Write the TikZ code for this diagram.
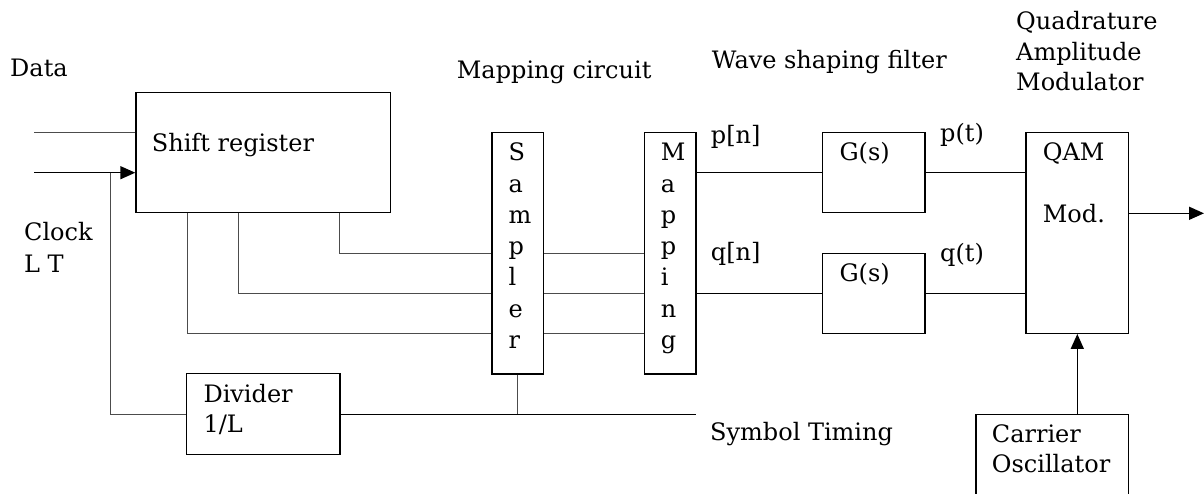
\documentclass[tikz,border=0pt]{standalone}
\usepackage{fontspec}
\setmainfont{DejaVu Serif}
\usetikzlibrary{arrows.meta}

\tikzset{
  blk/.style={draw, line width=1.3pt, inner sep=0pt},
  wire/.style={draw=black!70, line width=0.9pt},
  sig/.style={draw, line width=1.5pt, -{Triangle[length=15pt,width=13pt]}},
  lbl/.style={anchor=base west, inner sep=0pt, align=left},
}

\begin{document}
\begin{tikzpicture}[x=1pt, y=-1pt, font=\fontsize{24}{30.7}\selectfont]
	\useasboundingbox (0,0) rectangle (1204,493);
	\clip (0,0) rectangle (1204,493);
	% blocks
	\node[blk, minimum width=254.7pt, minimum height=120pt] (sr) at (263.3,152.7) {};
	\node[blk, minimum width=51.5pt, minimum height=241.3pt] (samp) at (517.7,253.3) {};
	\node[blk, minimum width=51.2pt, minimum height=241.3pt] (map) at (670.4,253.3) {};
	\node[blk, minimum width=102.3pt, minimum height=80pt] (g1) at (873.8,172.7) {};
	\node[blk, minimum width=102.3pt, minimum height=80pt] (g2) at (873.8,293.3) {};
	\node[blk, minimum width=102.7pt, minimum height=200.6pt] (qam) at (1077.3,233) {};
	\node[blk, minimum width=153.3pt, minimum height=80.6pt] (div) at (263.3,414) {};
	\node[blk, minimum width=152.7pt, minimum height=100pt] (osc) at (1052.3,464.3) {};
	% texts in and around the blocks (multi-line ones sit on their last line)
	\node[lbl] (datalbl) at (10,76.5) {Data};
	\node[lbl] (srlbl) at (151.7,151) {Shift register};
	\node[lbl, font=\fontsize{24}{32}\selectfont] (clklbl) at (24,272.7) {Clock\\L T};
	\node[lbl] (maplbl) at (456.7,78.3) {Mapping circuit};
	\node[lbl] (wavelbl) at (711.7,68.3) {Wave shaping filter};
	\node[lbl] (qamtitle) at (1016,90.7) {Quadrature\\Amplitude\\Modulator};
	\node[lbl, font=\fontsize{24}{31.3}\selectfont] (samptxt) at (508.3,348.5) {S\\a\\m\\p\\l\\e\\r};
	\node[lbl, font=\fontsize{24}{31.3}\selectfont] (maptxt) at (660.7,348.5) {M\\a\\p\\p\\i\\n\\g};
	\node[lbl] (pnlbl) at (710.7,143.3) {p[n]};
	\node[lbl] (qnlbl) at (710.7,260) {q[n]};
	\node[lbl] (g1txt) at (839.3,160.7) {G(s)};
	\node[lbl] (g2txt) at (839.3,281.7) {G(s)};
	\node[lbl] (ptlbl) at (940,141.7) {p(t)};
	\node[lbl] (qtlbl) at (940,261.7) {q(t)};
	\node[lbl] (qamtxt) at (1042.7,222.7) {QAM\\[31.3pt]Mod.};
	\node[lbl, font=\fontsize{24}{30}\selectfont] (divtxt) at (203.3,432.3) {Divider\\1/L};
	\node[lbl] (symlbl) at (710,440) {Symbol Timing};
	\node[lbl] (osctxt) at (991.7,472.7) {Carrier\\Oscillator};
	% free ends
	\coordinate (datain) at (34.3,132.7);
	\coordinate (clkin) at (34.3,172.7);
	\coordinate (clkjoin) at (110.5,172.7);
	\coordinate (symend) at (696,414);
	\coordinate (out) at (1204,213.3);
	% inputs and clock
	\draw[wire] (datain) -- (datain -| sr.west);
	\draw[sig] (clkin) -- (clkin -| sr.west);
	\draw[wire] (clkjoin) |- (div.west);
	\draw[wire, draw=black] (div.east) -- (symend);
	\draw[wire] (samp.south) -- (samp.south |- symend);
	% register taps through sampler to mapping
	\foreach \n/\tx/\ty in {a/339.3/253.3, b/238/293.3, c/187/333.3} {
		\coordinate (tap\n) at (\tx,212.7);
		\coordinate (row\n) at (0,\ty);
		\draw[wire] (tap\n) |- (samp.west |- row\n);
		\draw[wire] (samp.east |- row\n) -- (map.west |- row\n);
	}
	% p and q branches
	\draw[wire, draw=black] (map.east |- g1.west) -- (g1.west);
	\draw[wire, draw=black] (map.east |- g2.west) -- (g2.west);
	\draw[wire, draw=black] (g1.east) -- (g1.east -| qam.west);
	\draw[wire, draw=black] (g2.east) -- (g2.east -| qam.west);
	% modulator
	\draw[sig] (qam.east |- out) -- (out);
	\draw[sig] (qam.south |- osc.north) -- (qam.south);
\end{tikzpicture}
\end{document}
